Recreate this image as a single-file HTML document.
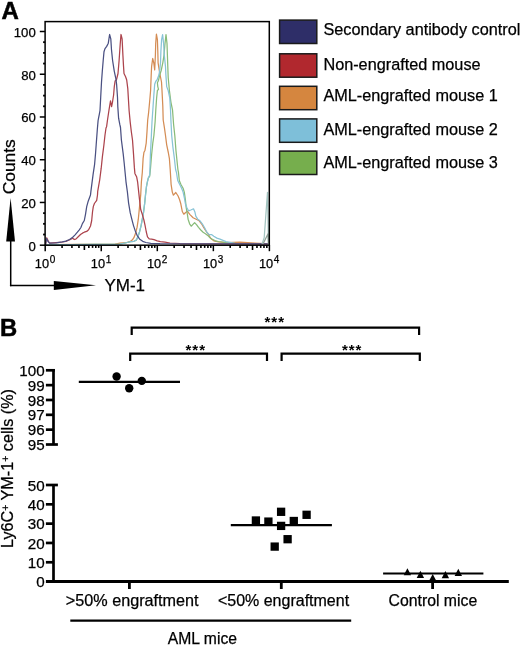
<!DOCTYPE html>
<html><head><meta charset="utf-8"><title>Figure</title>
<style>html,body{margin:0;padding:0;background:#fff;width:520px;height:646px;overflow:hidden}
svg text{stroke:#000;stroke-width:0.25px}</style>
</head><body>
<svg width="520" height="646" viewBox="0 0 520 646" style="display:block">
<rect width="520" height="646" fill="#fff"/>
<text x="1.5" y="18.8" font-family='"Liberation Sans", Arial, Helvetica, sans-serif' font-weight="bold" font-size="24" fill="#000" style="stroke-width:0.5px">A</text>
<polyline points="45.5,244.6 115.0,244.0 120.0,243.2 126.6,242.5 129.8,241.7 132.2,240.1 133.9,237.7 135.5,233.6 137.1,227.2 138.3,219.2 139.1,211.1 139.9,203.1 140.7,195.0 141.4,181.8 142.3,172.5 143.1,158.7 143.9,152.5 145.0,150.2 146.2,143.2 147.0,131.6 147.7,120.0 148.5,113.7 149.6,102.1 150.6,90.5 151.2,75.0 151.6,66.7 152.7,58.5 153.8,63.0 154.7,69.8 155.4,55.0 155.7,43.5 156.4,34.2 157.4,39.6 157.8,51.2 158.1,62.8 159.3,70.5 160.5,77.0 161.5,82.0 162.0,90.5 162.8,106.0 163.2,120.0 164.4,127.7 165.5,135.5 166.7,144.8 168.3,152.5 169.4,158.7 170.2,169.5 170.4,172.7 171.1,184.3 172.3,192.1 173.4,195.2 175.8,192.5 178.1,196.0 179.6,199.8 180.8,203.8 182.3,211.5 183.8,214.2 185.4,212.7 187.3,211.2 190.0,214.6 193.1,217.7 196.2,219.2 199.2,220.8 201.5,223.8 203.8,227.7 206.2,231.5 208.5,234.6 210.8,238.5 213.8,240.8 218.5,241.9 226.0,242.6 240.0,242.2 255.0,243.0 264.0,243.5 268.5,244.0" fill="none" stroke="#d48d55" stroke-width="1.25" stroke-linejoin="round"/>
<polyline points="45.5,244.8 120.0,244.2 127.4,242.5 130.6,241.7 133.9,241.3 136.3,240.1 137.9,236.9 139.5,232.0 141.1,225.6 142.3,219.2 143.5,212.7 144.7,203.1 145.5,195.0 146.5,186.4 147.4,181.8 148.3,178.1 149.7,176.2 150.4,169.5 151.6,154.8 152.8,143.2 153.9,135.5 155.1,122.0 155.8,109.8 156.6,98.2 157.4,90.5 158.5,89.3 157.8,86.6 157.4,82.7 158.5,80.4 159.7,75.0 161.2,70.5 162.8,62.8 164.0,55.1 165.0,43.5 166.0,34.6 167.0,43.5 167.4,55.1 167.8,66.7 168.2,77.5 169.4,90.5 170.9,102.1 172.5,109.8 173.6,124.5 174.8,135.5 176.0,151.0 177.9,169.5 178.5,172.7 179.3,180.5 180.8,184.3 183.1,188.2 184.3,192.1 185.4,199.8 186.2,207.7 187.3,213.8 188.1,219.2 189.6,223.8 191.2,226.2 192.7,224.6 194.6,222.7 196.5,224.6 198.5,227.3 200.8,230.0 203.1,232.3 205.4,233.8 207.7,235.4 210.0,237.7 212.3,239.2 215.4,240.8 218.5,241.5 226.0,242.6 240.0,243.8 263.0,244.0" fill="none" stroke="#88bb78" stroke-width="1.25" stroke-linejoin="round"/>
<polyline points="45.5,244.8 120.0,244.2 127.4,242.5 130.6,241.7 133.9,241.3 136.3,240.1 137.9,236.9 139.5,232.0 141.1,225.6 142.3,219.2 143.5,212.7 144.7,203.1 145.5,195.0 146.5,186.4 147.4,181.8 148.3,178.1 149.7,175.0 149.9,169.5 150.4,154.8 151.2,139.3 152.0,122.0 153.1,106.0 153.9,94.3 154.7,84.3 155.8,81.2 157.0,80.0 158.9,75.0 159.7,70.5 160.5,62.8 160.9,51.2 161.6,39.6 162.6,34.6 163.6,43.5 164.3,55.1 165.5,66.7 165.9,75.0 166.7,86.6 168.2,90.5 169.8,98.2 170.5,109.8 170.9,120.0 171.7,135.5 172.9,147.1 174.4,158.7 175.6,169.5 176.5,172.7 177.7,180.5 179.6,184.3 181.6,188.2 183.1,192.1 184.3,197.5 185.4,203.7 186.9,207.7 188.5,210.8 190.8,210.0 193.5,208.8 195.0,212.3 195.8,216.2 197.7,219.2 200.0,220.8 202.3,223.8 204.6,227.7 206.9,232.3 209.2,234.6 211.5,234.6 213.8,236.2 216.9,238.1 220.0,239.2 226.0,241.6 235.0,243.3 250.0,243.8 262.0,244.0" fill="none" stroke="#88c3d6" stroke-width="1.25" stroke-linejoin="round"/>
<polyline points="45.5,245.0 46.7,237.9 48.5,241.5 49.6,243.1 62.3,242.0 65.8,241.4 70.4,239.5 72.7,238.3 74.3,239.5 75.8,239.1 78.2,236.8 80.5,234.5 82.8,232.9 84.3,232.2 86.7,231.4 88.6,229.8 90.5,226.0 91.7,220.5 92.5,212.0 93.3,206.6 94.4,203.5 96.7,200.4 97.5,195.0 97.7,191.4 99.7,179.8 101.2,168.2 102.4,156.6 103.9,145.0 105.0,135.0 106.0,128.0 106.6,126.7 107.5,120.0 109.0,110.0 110.5,100.8 111.6,106.6 112.4,102.7 113.6,95.0 114.3,86.5 115.1,81.1 116.4,80.0 118.0,73.5 119.1,60.5 120.2,44.3 121.0,34.5 122.1,38.8 122.9,55.1 123.5,65.9 124.0,73.5 125.6,76.8 126.7,80.0 127.8,88.7 128.3,97.3 129.1,110.5 130.2,122.1 131.4,132.2 132.5,140.0 133.5,153.9 134.4,167.9 134.9,173.4 136.7,177.1 137.6,181.8 138.6,191.1 139.5,199.4 140.7,209.5 142.3,214.3 143.9,220.0 145.1,225.6 146.3,232.0 147.5,236.9 149.2,238.9 151.6,239.1 154.0,239.7 157.2,240.9 160.4,241.7 165.0,242.1 170.0,243.0 180.0,243.5 268.5,243.8" fill="none" stroke="#ac434c" stroke-width="1.25" stroke-linejoin="round"/>
<polyline points="45.5,245.0 46.5,238.5 48.0,241.5 49.6,243.1 56.5,242.8 62.3,241.8 65.8,241.1 69.6,239.5 72.7,237.2 75.1,234.9 77.4,232.2 79.3,229.8 80.9,227.5 82.4,223.6 84.3,220.5 85.5,214.3 86.7,206.6 88.2,201.2 90.5,195.0 90.9,191.4 91.9,183.7 93.1,174.4 94.6,164.3 95.6,152.7 96.2,144.5 97.3,129.8 98.1,120.5 98.7,117.4 99.3,114.3 100.0,110.5 100.7,97.3 101.5,82.2 102.3,71.3 103.2,60.5 104.0,51.8 105.0,48.6 106.7,46.4 108.3,43.2 109.6,34.5 110.8,38.8 111.5,49.7 112.6,60.5 114.3,71.3 115.9,78.9 116.6,84.3 117.5,97.3 117.8,106.6 118.6,118.2 119.8,124.4 120.5,127.5 121.4,140.0 123.2,153.9 124.2,163.2 125.1,172.5 126.0,181.8 127.4,192.0 128.6,203.1 130.2,212.7 131.8,219.2 133.5,225.6 135.1,230.4 137.1,235.3 139.5,238.9 142.7,241.3 145.9,242.5 150.8,243.3 160.0,243.6 268.5,243.8" fill="none" stroke="#4a5082" stroke-width="1.25" stroke-linejoin="round"/>
<polyline points="262.0,244.0 264.2,237.8 267.5,192.3 268.5,245.0" fill="none" stroke="#a3c4c0" stroke-width="1.25" stroke-linejoin="round"/>
<polyline points="263.0,244.0 265.1,239.7 267.9,234.0 268.5,244.0" fill="none" stroke="#8f9f95" stroke-width="1.25" stroke-linejoin="round"/>
<rect x="45.1" y="21.6" width="224.2" height="223.6" fill="none" stroke="#000" stroke-width="1.5"/>
<line x1="39.8" y1="245.20" x2="45.1" y2="245.20" stroke="#000" stroke-width="1.5"/>
<line x1="43.1" y1="234.51" x2="45.1" y2="234.51" stroke="#000" stroke-width="1.8"/>
<line x1="43.1" y1="223.83" x2="45.1" y2="223.83" stroke="#000" stroke-width="1.8"/>
<line x1="43.1" y1="213.14" x2="45.1" y2="213.14" stroke="#000" stroke-width="1.8"/>
<line x1="39.8" y1="202.46" x2="45.1" y2="202.46" stroke="#000" stroke-width="1.5"/>
<line x1="43.1" y1="191.77" x2="45.1" y2="191.77" stroke="#000" stroke-width="1.8"/>
<line x1="43.1" y1="181.09" x2="45.1" y2="181.09" stroke="#000" stroke-width="1.8"/>
<line x1="43.1" y1="170.40" x2="45.1" y2="170.40" stroke="#000" stroke-width="1.8"/>
<line x1="39.8" y1="159.72" x2="45.1" y2="159.72" stroke="#000" stroke-width="1.5"/>
<line x1="43.1" y1="149.03" x2="45.1" y2="149.03" stroke="#000" stroke-width="1.8"/>
<line x1="43.1" y1="138.35" x2="45.1" y2="138.35" stroke="#000" stroke-width="1.8"/>
<line x1="43.1" y1="127.66" x2="45.1" y2="127.66" stroke="#000" stroke-width="1.8"/>
<line x1="39.8" y1="116.98" x2="45.1" y2="116.98" stroke="#000" stroke-width="1.5"/>
<line x1="43.1" y1="106.29" x2="45.1" y2="106.29" stroke="#000" stroke-width="1.8"/>
<line x1="43.1" y1="95.61" x2="45.1" y2="95.61" stroke="#000" stroke-width="1.8"/>
<line x1="43.1" y1="84.92" x2="45.1" y2="84.92" stroke="#000" stroke-width="1.8"/>
<line x1="39.8" y1="74.24" x2="45.1" y2="74.24" stroke="#000" stroke-width="1.5"/>
<line x1="43.1" y1="63.55" x2="45.1" y2="63.55" stroke="#000" stroke-width="1.8"/>
<line x1="43.1" y1="52.87" x2="45.1" y2="52.87" stroke="#000" stroke-width="1.8"/>
<line x1="43.1" y1="42.18" x2="45.1" y2="42.18" stroke="#000" stroke-width="1.8"/>
<line x1="39.8" y1="31.50" x2="45.1" y2="31.50" stroke="#000" stroke-width="1.5"/>
<text x="35.8" y="250.50" text-anchor="end" font-family='"Liberation Sans", Arial, Helvetica, sans-serif' font-size="13.2" fill="#000">0</text>
<text x="35.8" y="207.76" text-anchor="end" font-family='"Liberation Sans", Arial, Helvetica, sans-serif' font-size="13.2" fill="#000">20</text>
<text x="35.8" y="165.02" text-anchor="end" font-family='"Liberation Sans", Arial, Helvetica, sans-serif' font-size="13.2" fill="#000">40</text>
<text x="35.8" y="122.28" text-anchor="end" font-family='"Liberation Sans", Arial, Helvetica, sans-serif' font-size="13.2" fill="#000">60</text>
<text x="35.8" y="79.54" text-anchor="end" font-family='"Liberation Sans", Arial, Helvetica, sans-serif' font-size="13.2" fill="#000">80</text>
<text x="35.8" y="36.80" text-anchor="end" font-family='"Liberation Sans", Arial, Helvetica, sans-serif' font-size="13.2" fill="#000">100</text>
<line x1="45.20" y1="245.2" x2="45.20" y2="251.2" stroke="#000" stroke-width="1.5"/>
<line x1="62.07" y1="245.2" x2="62.07" y2="247.9" stroke="#000" stroke-width="1.6"/>
<line x1="71.94" y1="245.2" x2="71.94" y2="247.9" stroke="#000" stroke-width="1.6"/>
<line x1="78.95" y1="245.2" x2="78.95" y2="247.9" stroke="#000" stroke-width="1.6"/>
<line x1="84.38" y1="245.2" x2="84.38" y2="250.0" stroke="#000" stroke-width="1.6"/>
<line x1="88.82" y1="245.2" x2="88.82" y2="247.9" stroke="#000" stroke-width="1.6"/>
<line x1="92.57" y1="245.2" x2="92.57" y2="247.9" stroke="#000" stroke-width="1.6"/>
<line x1="95.82" y1="245.2" x2="95.82" y2="247.9" stroke="#000" stroke-width="1.6"/>
<line x1="98.69" y1="245.2" x2="98.69" y2="247.9" stroke="#000" stroke-width="1.6"/>
<line x1="101.25" y1="245.2" x2="101.25" y2="251.2" stroke="#000" stroke-width="1.5"/>
<line x1="118.12" y1="245.2" x2="118.12" y2="247.9" stroke="#000" stroke-width="1.6"/>
<line x1="127.99" y1="245.2" x2="127.99" y2="247.9" stroke="#000" stroke-width="1.6"/>
<line x1="135.00" y1="245.2" x2="135.00" y2="247.9" stroke="#000" stroke-width="1.6"/>
<line x1="140.43" y1="245.2" x2="140.43" y2="250.0" stroke="#000" stroke-width="1.6"/>
<line x1="144.87" y1="245.2" x2="144.87" y2="247.9" stroke="#000" stroke-width="1.6"/>
<line x1="148.62" y1="245.2" x2="148.62" y2="247.9" stroke="#000" stroke-width="1.6"/>
<line x1="151.87" y1="245.2" x2="151.87" y2="247.9" stroke="#000" stroke-width="1.6"/>
<line x1="154.74" y1="245.2" x2="154.74" y2="247.9" stroke="#000" stroke-width="1.6"/>
<line x1="157.30" y1="245.2" x2="157.30" y2="251.2" stroke="#000" stroke-width="1.5"/>
<line x1="174.17" y1="245.2" x2="174.17" y2="247.9" stroke="#000" stroke-width="1.6"/>
<line x1="184.04" y1="245.2" x2="184.04" y2="247.9" stroke="#000" stroke-width="1.6"/>
<line x1="191.05" y1="245.2" x2="191.05" y2="247.9" stroke="#000" stroke-width="1.6"/>
<line x1="196.48" y1="245.2" x2="196.48" y2="250.0" stroke="#000" stroke-width="1.6"/>
<line x1="200.92" y1="245.2" x2="200.92" y2="247.9" stroke="#000" stroke-width="1.6"/>
<line x1="204.67" y1="245.2" x2="204.67" y2="247.9" stroke="#000" stroke-width="1.6"/>
<line x1="207.92" y1="245.2" x2="207.92" y2="247.9" stroke="#000" stroke-width="1.6"/>
<line x1="210.79" y1="245.2" x2="210.79" y2="247.9" stroke="#000" stroke-width="1.6"/>
<line x1="213.35" y1="245.2" x2="213.35" y2="251.2" stroke="#000" stroke-width="1.5"/>
<line x1="230.22" y1="245.2" x2="230.22" y2="247.9" stroke="#000" stroke-width="1.6"/>
<line x1="240.09" y1="245.2" x2="240.09" y2="247.9" stroke="#000" stroke-width="1.6"/>
<line x1="247.10" y1="245.2" x2="247.10" y2="247.9" stroke="#000" stroke-width="1.6"/>
<line x1="252.53" y1="245.2" x2="252.53" y2="250.0" stroke="#000" stroke-width="1.6"/>
<line x1="256.97" y1="245.2" x2="256.97" y2="247.9" stroke="#000" stroke-width="1.6"/>
<line x1="260.72" y1="245.2" x2="260.72" y2="247.9" stroke="#000" stroke-width="1.6"/>
<line x1="263.97" y1="245.2" x2="263.97" y2="247.9" stroke="#000" stroke-width="1.6"/>
<line x1="266.84" y1="245.2" x2="266.84" y2="247.9" stroke="#000" stroke-width="1.6"/>
<line x1="269.40" y1="245.2" x2="269.40" y2="251.2" stroke="#000" stroke-width="1.5"/>
<text x="34.80" y="268" font-family='"Liberation Sans", Arial, Helvetica, sans-serif' font-size="12.8" fill="#000">10<tspan font-size="10" dx="0.6" dy="-5.0">0</tspan></text>
<text x="90.85" y="268" font-family='"Liberation Sans", Arial, Helvetica, sans-serif' font-size="12.8" fill="#000">10<tspan font-size="10" dx="0.6" dy="-5.0">1</tspan></text>
<text x="146.90" y="268" font-family='"Liberation Sans", Arial, Helvetica, sans-serif' font-size="12.8" fill="#000">10<tspan font-size="10" dx="0.6" dy="-5.0">2</tspan></text>
<text x="202.95" y="268" font-family='"Liberation Sans", Arial, Helvetica, sans-serif' font-size="12.8" fill="#000">10<tspan font-size="10" dx="0.6" dy="-5.0">3</tspan></text>
<text x="259.00" y="268" font-family='"Liberation Sans", Arial, Helvetica, sans-serif' font-size="12.8" fill="#000">10<tspan font-size="10" dx="0.6" dy="-5.0">4</tspan></text>
<line x1="10.7" y1="240" x2="10.7" y2="286.2" stroke="#000" stroke-width="1.5"/>
<line x1="9.95" y1="285.5" x2="55" y2="285.5" stroke="#000" stroke-width="1.5"/>
<polygon points="10.6,198 15,241.5 6.2,241.5" fill="#000"/>
<polygon points="96,285.3 53.8,281 53.8,290" fill="#000"/>
<text transform="translate(14.5,166.8) rotate(-90)" text-anchor="middle" font-family='"Liberation Sans", Arial, Helvetica, sans-serif' font-size="17.4" fill="#000">Counts</text>
<text x="104.4" y="291" font-family='"Liberation Sans", Arial, Helvetica, sans-serif' font-size="17" fill="#000">YM-1</text>
<rect x="279.6" y="20.1" width="37.2" height="23.4" fill="#2e2e68" stroke="#1a1a1a" stroke-width="1.5"/>
<text x="323.4" y="35.2" font-family='"Liberation Sans", Arial, Helvetica, sans-serif' font-size="16.25" fill="#000">Secondary antibody control</text>
<rect x="279.6" y="53.8" width="37.2" height="23.4" fill="#b1282e" stroke="#1a1a1a" stroke-width="1.5"/>
<text x="323.4" y="69.7" font-family='"Liberation Sans", Arial, Helvetica, sans-serif' font-size="16.25" fill="#000">Non-engrafted mouse</text>
<rect x="279.6" y="86.3" width="37.2" height="23.4" fill="#d5863f" stroke="#1a1a1a" stroke-width="1.5"/>
<text x="323.4" y="100.5" font-family='"Liberation Sans", Arial, Helvetica, sans-serif' font-size="16.25" fill="#000">AML-engrafted mouse 1</text>
<rect x="279.6" y="118.9" width="37.2" height="23.4" fill="#7ebfd9" stroke="#1a1a1a" stroke-width="1.5"/>
<text x="323.4" y="134.9" font-family='"Liberation Sans", Arial, Helvetica, sans-serif' font-size="16.25" fill="#000">AML-engrafted mouse 2</text>
<rect x="279.6" y="151.1" width="37.2" height="23.4" fill="#76ae4d" stroke="#1a1a1a" stroke-width="1.5"/>
<text x="323.4" y="167.6" font-family='"Liberation Sans", Arial, Helvetica, sans-serif' font-size="16.25" fill="#000">AML-engrafted mouse 3</text>
<text x="-0.1" y="335.5" font-family='"Liberation Sans", Arial, Helvetica, sans-serif' font-weight="bold" font-size="23.8" fill="#000" style="stroke-width:0.5px">B</text>
<line x1="53.5" y1="369" x2="53.5" y2="444.5" stroke="#000" stroke-width="2.7"/>
<line x1="45.9" y1="370.30" x2="54.85" y2="370.30" stroke="#000" stroke-width="2.7"/>
<text x="44.6" y="375.90" text-anchor="end" font-family='"Liberation Sans", Arial, Helvetica, sans-serif' font-size="15.2" fill="#000">100</text>
<line x1="45.9" y1="385.14" x2="53.5" y2="385.14" stroke="#000" stroke-width="2.7"/>
<text x="44.6" y="390.74" text-anchor="end" font-family='"Liberation Sans", Arial, Helvetica, sans-serif' font-size="15.2" fill="#000">99</text>
<line x1="45.9" y1="399.98" x2="53.5" y2="399.98" stroke="#000" stroke-width="2.7"/>
<text x="44.6" y="405.58" text-anchor="end" font-family='"Liberation Sans", Arial, Helvetica, sans-serif' font-size="15.2" fill="#000">98</text>
<line x1="45.9" y1="414.82" x2="53.5" y2="414.82" stroke="#000" stroke-width="2.7"/>
<text x="44.6" y="420.42" text-anchor="end" font-family='"Liberation Sans", Arial, Helvetica, sans-serif' font-size="15.2" fill="#000">97</text>
<line x1="45.9" y1="429.66" x2="53.5" y2="429.66" stroke="#000" stroke-width="2.7"/>
<text x="44.6" y="435.26" text-anchor="end" font-family='"Liberation Sans", Arial, Helvetica, sans-serif' font-size="15.2" fill="#000">96</text>
<line x1="45.9" y1="444.50" x2="57.9" y2="444.50" stroke="#000" stroke-width="2.7"/>
<text x="44.6" y="450.10" text-anchor="end" font-family='"Liberation Sans", Arial, Helvetica, sans-serif' font-size="15.2" fill="#000">95</text>
<line x1="53.5" y1="485" x2="53.5" y2="581.5" stroke="#000" stroke-width="2.7"/>
<line x1="45.9" y1="485.00" x2="57.9" y2="485.00" stroke="#000" stroke-width="2.7"/>
<text x="44.6" y="490.60" text-anchor="end" font-family='"Liberation Sans", Arial, Helvetica, sans-serif' font-size="15.2" fill="#000">50</text>
<line x1="45.9" y1="504.32" x2="53.5" y2="504.32" stroke="#000" stroke-width="2.7"/>
<text x="44.6" y="509.92" text-anchor="end" font-family='"Liberation Sans", Arial, Helvetica, sans-serif' font-size="15.2" fill="#000">40</text>
<line x1="45.9" y1="523.64" x2="53.5" y2="523.64" stroke="#000" stroke-width="2.7"/>
<text x="44.6" y="529.24" text-anchor="end" font-family='"Liberation Sans", Arial, Helvetica, sans-serif' font-size="15.2" fill="#000">30</text>
<line x1="45.9" y1="542.96" x2="53.5" y2="542.96" stroke="#000" stroke-width="2.7"/>
<text x="44.6" y="548.56" text-anchor="end" font-family='"Liberation Sans", Arial, Helvetica, sans-serif' font-size="15.2" fill="#000">20</text>
<line x1="45.9" y1="562.28" x2="53.5" y2="562.28" stroke="#000" stroke-width="2.7"/>
<text x="44.6" y="567.88" text-anchor="end" font-family='"Liberation Sans", Arial, Helvetica, sans-serif' font-size="15.2" fill="#000">10</text>
<text x="44.6" y="587.20" text-anchor="end" font-family='"Liberation Sans", Arial, Helvetica, sans-serif' font-size="15.2" fill="#000">0</text>
<line x1="45.9" y1="581.5" x2="508.8" y2="581.5" stroke="#000" stroke-width="2.8"/>
<line x1="129.4" y1="581.5" x2="129.4" y2="589" stroke="#000" stroke-width="2.8"/>
<line x1="281.3" y1="581.5" x2="281.3" y2="589" stroke="#000" stroke-width="2.8"/>
<line x1="432.6" y1="581.5" x2="432.6" y2="589" stroke="#000" stroke-width="2.8"/>
<text transform="translate(13,548) rotate(-90)" font-family='"Liberation Sans", Arial, Helvetica, sans-serif' font-size="16.2" fill="#000">Ly6C<tspan font-size="10.5" dy="-4">+</tspan><tspan dy="4"> YM-1</tspan><tspan font-size="10.5" dy="-4">+</tspan><tspan dy="4"> cells (%)</tspan></text>
<text x="132.2" y="606" text-anchor="middle" font-family='"Liberation Sans", Arial, Helvetica, sans-serif' font-size="16.2" fill="#000">&gt;50% engraftment</text>
<text x="283.5" y="606" text-anchor="middle" font-family='"Liberation Sans", Arial, Helvetica, sans-serif' font-size="16" fill="#000">&lt;50% engraftment</text>
<text x="432.9" y="605.6" text-anchor="middle" font-family='"Liberation Sans", Arial, Helvetica, sans-serif' font-size="15.8" fill="#000">Control mice</text>
<line x1="70.3" y1="620.7" x2="351.2" y2="620.7" stroke="#000" stroke-width="2.2"/>
<text x="202.4" y="643.7" text-anchor="middle" font-family='"Liberation Sans", Arial, Helvetica, sans-serif' font-size="15.7" fill="#000">AML mice</text>
<polyline points="131.7,335 131.7,327.7 419.1,327.7 419.1,335" fill="none" stroke="#000" stroke-width="2.2"/>
<polyline points="130.2,361 130.2,353.6 267,353.6 267,361" fill="none" stroke="#000" stroke-width="2.2"/>
<polyline points="281.6,361 281.6,353.6 419.8,353.6 419.8,361" fill="none" stroke="#000" stroke-width="2.2"/>
<text x="274.8" y="327.4" text-anchor="middle" font-family='"Liberation Sans", Arial, Helvetica, sans-serif' font-weight="bold" font-size="15" letter-spacing="1" fill="#000" style="stroke:none">***</text>
<text x="195.8" y="354.8" text-anchor="middle" font-family='"Liberation Sans", Arial, Helvetica, sans-serif' font-weight="bold" font-size="15" letter-spacing="1" fill="#000" style="stroke:none">***</text>
<text x="352.2" y="354.8" text-anchor="middle" font-family='"Liberation Sans", Arial, Helvetica, sans-serif' font-weight="bold" font-size="15" letter-spacing="1" fill="#000" style="stroke:none">***</text>
<line x1="78.8" y1="381.9" x2="180" y2="381.9" stroke="#000" stroke-width="2.1"/>
<circle cx="116.6" cy="376.5" r="4.2" fill="#000"/>
<circle cx="129.2" cy="388.2" r="4.2" fill="#000"/>
<circle cx="141.8" cy="380.9" r="4.2" fill="#000"/>
<line x1="230.8" y1="525.1" x2="331.9" y2="525.1" stroke="#000" stroke-width="2.1"/>
<rect x="251.75" y="516.35" width="8.3" height="8.3" fill="#000"/>
<rect x="264.25" y="517.45" width="8.3" height="8.3" fill="#000"/>
<rect x="276.95" y="507.65" width="8.3" height="8.3" fill="#000"/>
<rect x="276.95" y="521.75" width="8.3" height="8.3" fill="#000"/>
<rect x="289.65" y="516.85" width="8.3" height="8.3" fill="#000"/>
<rect x="302.45" y="510.65" width="8.3" height="8.3" fill="#000"/>
<rect x="283.45" y="535.05" width="8.3" height="8.3" fill="#000"/>
<rect x="270.55" y="542.45" width="8.3" height="8.3" fill="#000"/>
<line x1="383.1" y1="573.6" x2="483.4" y2="573.6" stroke="#000" stroke-width="2"/>
<polygon points="407.4,568.3 411.1,575.3 403.7,575.3" fill="#000"/>
<polygon points="420.4,570.8 424.1,578.1 416.7,578.1" fill="#000"/>
<polygon points="432.7,574.1 436.4,581.0 429.0,581.0" fill="#000"/>
<polygon points="445.4,571 449.1,578.2 441.7,578.2" fill="#000"/>
<polygon points="458.3,568.7 462.0,575.9 454.6,575.9" fill="#000"/>
</svg>
</body></html>
